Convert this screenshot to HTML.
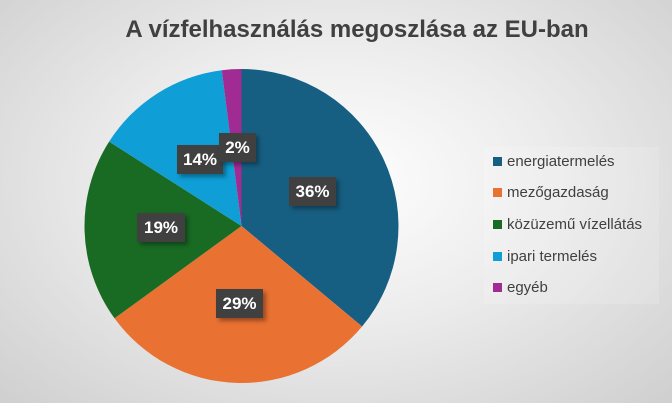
<!DOCTYPE html>
<html><head><style>
body{margin:0;width:672px;height:403px;overflow:hidden;background:radial-gradient(ellipse at 50% 45%,#ffffff 0%,#ececec 45%,#cfcfcf 100%);font-family:"Liberation Sans",sans-serif;position:relative}
.t{position:absolute;left:0;width:714px;top:16px;text-align:center;font-weight:bold;font-size:24px;color:#404040}
.lab{position:absolute;background:#404040;color:#fff;font-weight:bold;font-size:17px;height:29px;line-height:29px;text-align:center;box-shadow:3px 3px 4px rgba(0,0,0,0.35)}
.lg{position:absolute;left:484px;top:147px;width:175px;height:157px;background:rgba(255,255,255,0.15)}
.li{position:absolute;left:493px;font-size:15px;color:#404040;height:16px;line-height:16px}
.li i{display:inline-block;width:9px;height:9px;margin-right:5px;vertical-align:0px}
</style></head><body>
<div class="t">A vízfelhasználás megoszlása az EU-ban</div>
<svg width="672" height="403" style="position:absolute;left:0;top:0">
<g transform="translate(241.5,226)">
<path d="M0,0 L0,-157 A157,157 0 0 1 120.6,100.5 Z" fill="#175f82"/>
<path d="M0,0 L120.6,100.5 A157,157 0 0 1 -127.0,92.3 Z" fill="#e97132"/>
<path d="M0,0 L-127.0,92.3 A157,157 0 0 1 -132.4,-84.4 Z" fill="#196b24"/>
<path d="M0,0 L-132.4,-84.4 A157,157 0 0 1 -19.7,-155.8 Z" fill="#0f9ed5"/>
<path d="M0,0 L-19.7,-155.8 A157,157 0 0 1 0,-157 Z" fill="#a02b93"/>
</g></svg>
<div class="lab" style="left:289px;top:177px;width:47px">36%</div>
<div class="lab" style="left:216px;top:289px;width:47px">29%</div>
<div class="lab" style="left:137px;top:213px;width:48px">19%</div>
<div class="lab" style="left:177px;top:145px;width:46px">14%</div>
<div class="lab" style="left:219px;top:133px;width:37px">2%</div>
<div class="lg"></div>
<div class="li" style="top:154px"><i style="background:#175f82"></i>energiatermelés</div>
<div class="li" style="top:185px"><i style="background:#e97132"></i>mezőgazdaság</div>
<div class="li" style="top:217px"><i style="background:#196b24"></i>közüzemű vízellátás</div>
<div class="li" style="top:249px"><i style="background:#0f9ed5"></i>ipari termelés</div>
<div class="li" style="top:280px"><i style="background:#a02b93"></i>egyéb</div>
</body></html>
